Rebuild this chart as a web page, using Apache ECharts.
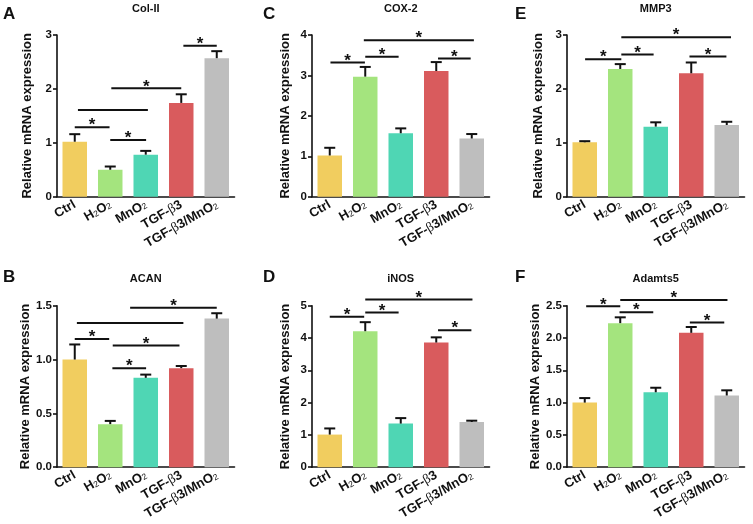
<!DOCTYPE html>
<html><head><meta charset="utf-8">
<script src="https://cdn.jsdelivr.net/npm/echarts@6/dist/echarts.min.js"></script>
<style>html,body{margin:0;padding:0;background:#fff}#c{width:753px;height:524px}</style>
</head><body><div id="c"></div>
<script>
// ---------- data ----------
const categories = ['Ctrl', 'H2O2', 'MnO2', 'TGF-β3', 'TGF-β3/MnO2'];
const panelTitles = ['Col-II', 'COX-2', 'MMP3', 'ACAN', 'iNOS', 'Adamts5'];
const panelLetters = ['A', 'C', 'E', 'B', 'D', 'F'];
const yAxisName = 'Relative mRNA expression';

// significance rows: [fromCategory, toCategory, height, showAsterisk]
const colIIMean = [1.02, 0.50, 0.78, 1.74, 2.57];
const colIIErr = [0.14, 0.06, 0.07, 0.16, 0.13];
const colIITicks = ['0', '1', '2', '3'];
const colIISig = [[0, 0.98, 1.29, 1], [1, 2.01, 1.05, 1], [0.09, 2.06, 1.61, 0], [1.03, 3, 2.01, 1], [3.06, 4, 2.80, 1]];

const cox2Mean = [1.02, 2.97, 1.57, 3.11, 1.44];
const cox2Err = [0.19, 0.24, 0.12, 0.22, 0.11];
const cox2Ticks = ['0', '1', '2', '3', '4'];
const cox2Sig = [[0.02, 0.99, 3.32, 1], [1, 1.94, 3.46, 1], [0.96, 4.06, 3.87, 1], [3.05, 3.97, 3.42, 1]];

const mmp3Mean = [1.01, 2.37, 1.30, 2.29, 1.33];
const mmp3Err = [0.02, 0.09, 0.08, 0.20, 0.06];
const mmp3Ticks = ['0', '1', '2', '3'];
const mmp3Sig = [[0.01, 1.03, 2.55, 1], [1.03, 1.94, 2.64, 1], [1.03, 4.12, 2.96, 1], [2.95, 3.99, 2.60, 1]];

const acanMean = [1.00, 0.40, 0.83, 0.92, 1.38];
const acanErr = [0.14, 0.03, 0.03, 0.02, 0.05];
const acanTicks = ['0.0', '0.5', '1.0', '1.5'];
const acanSig = [[0, 0.97, 1.19, 1], [1.06, 2.01, 0.92, 1], [1.07, 2.95, 1.13, 1], [0.06, 3.06, 1.34, 0], [1.56, 4.0, 1.48, 1]];

const inosMean = [1.01, 4.21, 1.35, 3.86, 1.40];
const inosErr = [0.19, 0.28, 0.17, 0.16, 0.04];
const inosTicks = ['0', '1', '2', '3', '4', '5'];
const inosSig = [[0, 0.97, 4.66, 1], [1, 1.94, 4.79, 1], [1, 4.02, 5.19, 1], [3.05, 3.99, 4.24, 1]];

const adamts5Mean = [1.00, 2.23, 1.16, 2.08, 1.11];
const adamts5Err = [0.07, 0.09, 0.07, 0.09, 0.08];
const adamts5Ticks = ['0.0', '0.5', '1.0', '1.5', '2.0', '2.5'];
const adamts5Sig = [[0.04, 1.0, 2.49, 1], [0.98, 1.93, 2.40, 1], [1.0, 4.02, 2.59, 1], [2.96, 3.93, 2.24, 1]];

// ---------- style / layout ----------
const FONT = '"Liberation Sans", Arial, sans-serif';
const INK = '#111';
const barColors = ['#F1CD5F', '#A4E47E', '#4FD6B4', '#D95B5D', '#BEBEBE'];
const colLeft = [57, 312, 567];
const rowTop = [35, 305.7];
const gridW = 177.5;
const gridH = [161.7, 161.5];
const nameGaps = [23, 20, 22];

const panels = [
  { mean: colIIMean, err: colIIErr, ticks: colIITicks, sig: colIISig },
  { mean: cox2Mean, err: cox2Err, ticks: cox2Ticks, sig: cox2Sig },
  { mean: mmp3Mean, err: mmp3Err, ticks: mmp3Ticks, sig: mmp3Sig },
  { mean: acanMean, err: acanErr, ticks: acanTicks, sig: acanSig },
  { mean: inosMean, err: inosErr, ticks: inosTicks, sig: inosSig },
  { mean: adamts5Mean, err: adamts5Err, ticks: adamts5Ticks, sig: adamts5Sig }
];

const grids = [], xAxes = [], yAxes = [], series = [], titles = [];

panels.forEach((p, i) => {
  const col = i % 3, row = Math.floor(i / 3);
  grids.push({ left: colLeft[col], top: rowTop[row], width: gridW, height: gridH[row] });
  xAxes.push({
    type: 'category', gridIndex: i, data: categories,
    axisLine: { lineStyle: { color: INK, width: 1.6 } },
    axisTick: { alignWithLabel: true, length: 4, lineStyle: { color: INK, width: 1.6 } },
    axisLabel: {
      interval: 0, rotate: 30, margin: 7, color: INK,
      fontFamily: FONT, fontWeight: 'bold', fontSize: 13,
      formatter: v => v.replace(/β/g, '{g|β}').replace(/([A-Za-z])2/g, '$1{s|2}'),
      rich: {
        s: { fontSize: 8.5, fontWeight: 'normal', fontFamily: FONT, color: INK, verticalAlign: 'bottom' },
        g: { fontSize: 13.5, fontWeight: 'normal', fontFamily: '"Liberation Serif", serif', color: INK }
      }
    }
  });
  const tv = p.ticks.map(Number);
  yAxes.push({
    type: 'value', gridIndex: i,
    min: tv[0], max: tv[tv.length - 1], interval: tv[1] - tv[0],
    name: yAxisName, nameLocation: 'middle', nameGap: nameGaps[col], nameRotate: 90,
    nameTextStyle: { fontFamily: FONT, fontWeight: 'bold', fontSize: 13, color: INK },
    splitLine: { show: false },
    axisLine: { show: true, lineStyle: { color: INK, width: 1.6 } },
    axisTick: { show: true, length: 4, lineStyle: { color: INK, width: 1.6 } },
    axisLabel: {
      margin: 5, color: INK, fontFamily: FONT, fontWeight: 'bold', fontSize: 11.5,
      formatter: (v) => { const k = tv.findIndex(t => Math.abs(t - v) < 1e-9); return k >= 0 ? p.ticks[k] : ''; }
    }
  });
  series.push({
    type: 'bar', xAxisIndex: i, yAxisIndex: i, barCategoryGap: '31%',
    data: p.mean.map((m, k) => ({ value: m, itemStyle: { color: barColors[k] } })),
    z: 2, silent: true
  });
  series.push({
    type: 'custom', xAxisIndex: i, yAxisIndex: i, z: 3, silent: true,
    data: p.mean.map((m, k) => [k, m, p.err[k]]),
    renderItem: (params, api) => {
      const x = api.value(0), m = api.value(1), e = api.value(2);
      const a = api.coord([x, m]), b = api.coord([x, m + e]);
      const hw = 5.5;
      const st = { stroke: INK, lineWidth: 2 };
      return { type: 'group', children: [
        { type: 'line', shape: { x1: a[0], y1: a[1], x2: b[0], y2: b[1] }, style: st },
        { type: 'line', shape: { x1: b[0] - hw, y1: b[1], x2: b[0] + hw, y2: b[1] }, style: st }
      ] };
    }
  });
  series.push({
    type: 'custom', xAxisIndex: i, yAxisIndex: i, z: 4, silent: true, clip: false,
    data: p.sig.map(s => [0, s[2]]),
    renderItem: (params, api) => {
      const s = p.sig[params.dataIndex];
      const c0 = api.coord([0, s[2]]), c1 = api.coord([1, s[2]]);
      const bw = c1[0] - c0[0];
      const x1 = c0[0] + s[0] * bw, x2 = c0[0] + s[1] * bw, y = c0[1];
      const children = [{ type: 'line', shape: { x1, y1: y, x2, y2: y }, style: { stroke: INK, lineWidth: 2 } }];
      if (s[3]) children.push({ type: 'text', x: (x1 + x2) / 2, y: y - 1.5, style: {
        text: '*', fill: INK, font: 'bold 17px ' + FONT, textAlign: 'center', textVerticalAlign: 'middle' } });
      return { type: 'group', children };
    }
  });
  titles.push({
    text: panelTitles[i], left: colLeft[col] + gridW / 2, top: row ? 273 : 3, textAlign: 'center', padding: 0,
    textStyle: { fontFamily: FONT, fontWeight: 'bold', fontSize: 11, color: INK }
  });
  titles.push({
    text: panelLetters[i], left: [3, 263, 515][col], top: row ? 269 : 6, padding: 0,
    textStyle: { fontFamily: FONT, fontWeight: 'bold', fontSize: 17, color: INK }
  });
});

const chart = echarts.init(document.getElementById('c'), null, { renderer: 'canvas' });
chart.setOption({
  backgroundColor: '#fff', animation: false,
  title: titles, grid: grids, xAxis: xAxes, yAxis: yAxes, series
});
</script></body></html>
